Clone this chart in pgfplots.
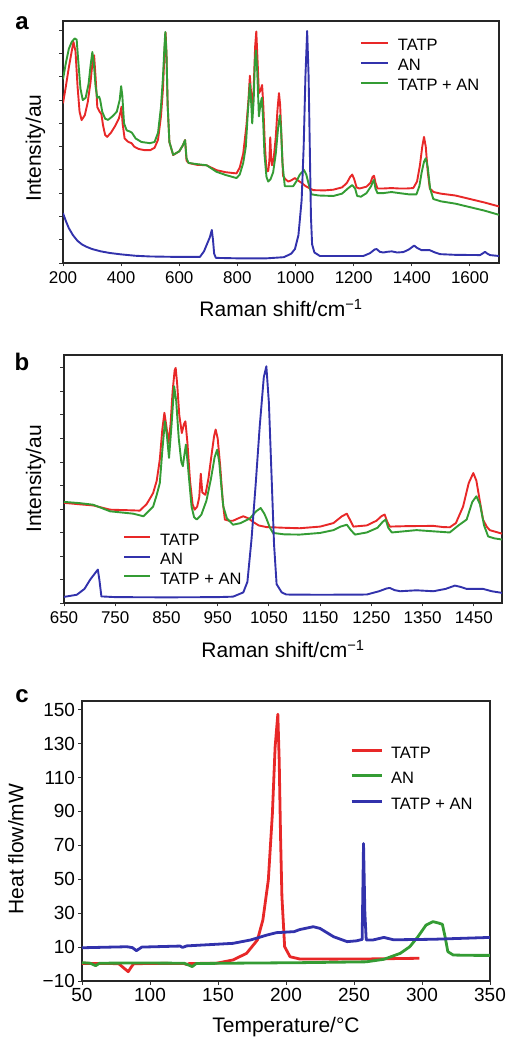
\documentclass[border=0pt]{standalone}
\usepackage{fontspec}
\setmainfont{Liberation Sans}
\usepackage{pgfplots}
\pgfplotsset{compat=1.18}
\definecolor{cred}{RGB}{232,40,40}
\definecolor{cblue}{RGB}{50,50,172}
\definecolor{cgreen}{RGB}{52,156,52}
\pgfplotsset{
  every axis/.append style={
    scale only axis, anchor=south west,
    axis line style={line width=1.6pt, black!85},
    tick style={line width=0.9pt, black!80},
    major tick length=3.5pt, tick align=outside,
    xtick pos=bottom, ytick pos=left,
    /pgf/number format/assume math mode=true,
    /pgf/number format/set thousands separator={},
    ticklabel style={font=\fontsize{17}{20}\selectfont},
    label style={font=\fontsize{21}{24}\selectfont},
    legend cell align=left,
    legend style={draw=none, fill=none, inner sep=0pt, outer sep=0pt, anchor=north west,
      font=\fontsize{16.5}{19}\selectfont, column sep=9pt,
      nodes={inner sep=0pt, text height=12pt, text depth=3.5pt}},
  },
  spec/.style={line width=1.9pt, line join=round},
}
\begin{document}
\begin{tikzpicture}
\useasboundingbox (0,0) rectangle (510pt,1039pt);
%% ---------------- panel a ----------------
\begin{axis}[at={(63pt,776pt)}, width=436pt, height=242pt,
  xmin=200, xmax=1700, ymin=0, ymax=10.4,
  xtick={200,400,...,1600}, ytick={0,1,...,10}, yticklabels={,,,,,,,,,,},
  xticklabel style={yshift=-2pt},
  xlabel={Raman shift/cm\textsuperscript{−1}},
  xlabel style={at={(axis description cs:0.5,0)}, anchor=base, yshift=-54pt},
  ylabel={Intensity/au},
  ylabel style={at={(axis description cs:-0.0505,0.475)}, anchor=base},
  legend style={at={(rel axis cs:0.681,0.9256)}, row sep=4.5pt},
  legend image code/.code={\draw[#1, line width=2pt] (0pt,0.36em) -- (27pt,0.36em);},
]
\addplot[spec, cred, forget plot] coordinates {
(200,6.86) (210,7.6) (220,8.4) (230,9.1) (236,9.5) (243,9.1) (250,7.6) (257,6.5) (264,6.14) (275,6.35) (285,6.9) (295,7.8) (302,8.7) (307,8.93) (312,8.0) (318,6.7) (326,6.5) (332,6.4) (338,5.9) (345,5.5) (352,5.42) (365,5.6) (380,5.9) (392,6.2) (398,6.5) (401,6.71) (405,6.0) (412,5.35) (425,5.2) (436,5.15) (445,5.0) (460,4.9) (480,4.85) (500,4.85) (515,4.95) (527,5.3) (537,6.3) (544,7.5) (549,9.0) (553,9.9) (556,9.0) (560,6.8) (566,5.2) (579,4.64) (600,4.8) (612,5.05) (620,5.28) (625,4.4) (632,4.3) (660,4.22) (694,4.2) (728,3.99) (760,3.9) (797,3.85) (808,4.1) (820,4.7) (831,5.9) (838,7.0) (843,8.05) (847,7.3) (851,6.6) (856,7.5) (861,9.3) (865,9.95) (869,8.8) (874,7.3) (879,7.4) (885,7.65) (889,6.8) (894,5.2) (900,3.95) (906,3.95) (910,4.4) (913,5.4) (916,4.6) (919,4.2) (925,4.5) (932,5.4) (938,6.6) (943,7.3) (947,6.8) (952,5.3) (957,3.75) (965,3.6) (975,3.5) (985,3.55) (998,3.65) (1008,3.55) (1020,3.45) (1035,3.3) (1050,3.2) (1061,3.13) (1100,3.12) (1130,3.15) (1160,3.25) (1176,3.43) (1188,3.7) (1195,3.8) (1202,3.6) (1210,3.25) (1220,3.2) (1244,3.28) (1258,3.45) (1265,3.7) (1270,3.75) (1275,3.45) (1282,3.2) (1300,3.2) (1330,3.22) (1359,3.2) (1380,3.2) (1405,3.22) (1418,3.5) (1428,4.2) (1436,5.0) (1442,5.42) (1448,5.0) (1455,3.9) (1462,3.2) (1475,3.05) (1500,2.98) (1550,2.9) (1600,2.75) (1650,2.6) (1700,2.43)};
\addplot[spec, cgreen, forget plot] coordinates {
(200,7.9) (210,8.6) (220,9.2) (230,9.5) (240,9.65) (247,9.6) (253,8.6) (260,7.5) (268,7.0) (278,7.1) (288,7.7) (295,8.5) (301,9.07) (306,8.6) (312,7.6) (318,7.1) (324,7.15) (328,7.0) (335,6.5) (345,6.2) (355,6.15) (370,6.3) (385,6.5) (395,7.0) (400,7.6) (404,7.2) (410,6.0) (419,5.7) (430,5.65) (437,5.6) (450,5.35) (470,5.2) (499,5.15) (515,5.2) (527,5.6) (537,6.7) (544,8.0) (549,9.3) (552,9.93) (556,9.0) (560,6.8) (566,5.2) (579,4.65) (600,4.8) (612,5.05) (620,5.28) (625,4.5) (632,4.3) (660,4.25) (694,4.2) (728,3.92) (760,3.78) (797,3.65) (808,3.8) (820,4.3) (829,5.0) (836,6.5) (843,7.7) (847,7.0) (851,6.0) (856,7.0) (860,8.6) (864,9.14) (868,8.3) (874,6.3) (879,6.8) (884,7.1) (888,6.3) (893,4.7) (900,3.7) (906,3.5) (914,3.6) (923,3.9) (932,4.7) (940,5.8) (946,6.35) (950,5.8) (955,4.3) (963,3.3) (975,3.3) (992,3.3) (1005,3.55) (1015,3.8) (1029,4.0) (1037,3.8) (1044,3.45) (1055,2.95) (1080,2.9) (1130,2.88) (1160,2.98) (1180,3.2) (1195,3.35) (1205,3.2) (1212,2.88) (1225,2.85) (1244,3.0) (1260,3.3) (1266,3.5) (1270,3.57) (1275,3.2) (1282,3.0) (1300,3.0) (1330,3.05) (1359,3.0) (1390,2.95) (1416,2.95) (1426,3.3) (1434,3.9) (1442,4.35) (1448,4.5) (1455,4.1) (1463,3.2) (1474,2.75) (1500,2.65) (1550,2.55) (1600,2.4) (1650,2.25) (1700,2.07)};
\addplot[spec, cblue, forget plot] coordinates {
(200,2.14) (210,1.8) (220,1.5) (234,1.2) (250,0.95) (265,0.8) (280,0.7) (300,0.6) (330,0.5) (361,0.43) (400,0.37) (450,0.31) (500,0.28) (600,0.26) (671,0.26) (685,0.5) (695,0.8) (705,1.1) (712,1.42) (716,1.0) (720,0.4) (726,0.22) (800,0.2) (900,0.2) (960,0.25) (985,0.4) (998,0.6) (1010,1.2) (1021,2.7) (1028,5.0) (1034,8.0) (1040,9.97) (1045,8.0) (1049,5.0) (1053,2.0) (1057,0.8) (1065,0.45) (1084,0.3) (1150,0.3) (1233,0.3) (1256,0.42) (1272,0.58) (1279,0.6) (1290,0.48) (1302,0.45) (1315,0.48) (1331,0.5) (1350,0.45) (1371,0.47) (1390,0.58) (1408,0.75) (1418,0.65) (1434,0.55) (1462,0.55) (1480,0.45) (1497,0.38) (1550,0.35) (1635,0.34) (1645,0.42) (1652,0.48) (1660,0.4) (1669,0.34) (1700,0.3)};
\addlegendimage{cred}\addlegendentry{TATP}
\addlegendimage{cblue}\addlegendentry{AN}
\addlegendimage{cgreen}\addlegendentry{TATP + AN}
\end{axis}
\node[font=\bfseries\fontsize{24}{24}\selectfont] at (22pt,1016pt) {a};
%% ---------------- panel b ----------------
\begin{axis}[at={(64pt,436pt)}, width=438pt, height=248pt,
  xmin=650, xmax=1505, ymin=0, ymax=10.55,
  xtick={650,750,...,1450}, ytick={0,1,...,10}, yticklabels={,,,,,,,,,,},
  xticklabel style={yshift=-2pt},
  xlabel={Raman shift/cm\textsuperscript{−1}},
  xlabel style={at={(axis description cs:0.5,0)}, anchor=base, yshift=-55pt},
  ylabel={Intensity/au},
  ylabel style={at={(axis description cs:-0.0525,0.5)}, anchor=base},
  legend style={at={(rel axis cs:0.1347,0.282)}, row sep=4pt},
  legend image code/.code={\draw[#1, line width=2pt] (0pt,0.36em) -- (26pt,0.36em);},
]
\addplot[spec, cred, forget plot] coordinates {
(650,4.26) (680,4.2) (707,4.15) (740,3.97) (770,3.95) (798,3.93) (811,4.2) (818,4.45) (824,4.68) (831,5.2) (837,6.1) (842,7.4) (846,8.09) (850,7.5) (854,6.81) (858,7.6) (862,9.0) (866,9.9) (868,10.0) (871,9.3) (875,8.0) (880,7.23) (884,7.6) (887,7.73) (891,6.8) (896,5.2) (901,4.2) (905,3.97) (910,4.1) (914,4.5) (917,5.5) (920,4.7) (926,4.6) (932,5.3) (938,6.3) (943,7.1) (946,7.38) (950,7.0) (955,5.8) (960,4.3) (964,3.55) (972,3.5) (980,3.5) (990,3.6) (1000,3.69) (1010,3.6) (1019,3.45) (1030,3.3) (1045,3.23) (1080,3.2) (1110,3.18) (1150,3.25) (1176,3.4) (1192,3.68) (1202,3.8) (1208,3.55) (1215,3.25) (1241,3.3) (1260,3.5) (1270,3.7) (1276,3.76) (1281,3.45) (1286,3.25) (1320,3.27) (1371,3.28) (1390,3.23) (1403,3.22) (1415,3.4) (1429,4.1) (1440,5.1) (1449,5.53) (1455,5.2) (1462,4.3) (1468,3.55) (1475,3.25) (1481,3.1) (1505,2.95)};
\addplot[spec, cgreen, forget plot] coordinates {
(650,4.3) (680,4.25) (707,4.18) (740,3.9) (785,3.8) (805,3.69) (815,3.9) (824,4.1) (831,4.6) (837,5.1) (842,6.5) (847,7.73) (851,7.1) (855,6.17) (860,7.6) (865,9.22) (869,8.6) (874,7.0) (879,6.0) (882,5.82) (885,6.3) (888,6.74) (892,5.8) (899,4.1) (904,3.65) (909,3.55) (918,3.75) (928,4.35) (937,5.3) (944,6.2) (949,6.52) (953,6.0) (957,5.0) (961,4.1) (968,3.6) (980,3.33) (995,3.4) (1013,3.6) (1025,3.9) (1034,4.04) (1041,3.8) (1045,3.6) (1052,3.2) (1058,2.98) (1080,2.92) (1110,2.91) (1150,2.98) (1176,3.1) (1190,3.25) (1202,3.33) (1210,3.1) (1218,2.91) (1241,3.0) (1262,3.2) (1272,3.45) (1278,3.55) (1283,3.2) (1290,3.0) (1338,3.1) (1370,3.05) (1403,3.0) (1420,3.3) (1436,3.55) (1447,4.3) (1455,4.54) (1462,4.2) (1470,3.3) (1478,2.83) (1490,2.75) (1505,2.7)};
\addplot[spec, cblue, forget plot] coordinates {
(650,0.26) (675,0.35) (690,0.6) (701,0.99) (710,1.25) (716,1.42) (719,1.0) (723,0.28) (750,0.25) (850,0.24) (950,0.25) (980,0.27) (1000,0.45) (1008,0.9) (1016,2.7) (1024,5.0) (1032,7.5) (1040,9.6) (1045,10.07) (1050,8.5) (1055,5.5) (1060,2.5) (1065,0.8) (1075,0.45) (1084,0.36) (1150,0.35) (1241,0.36) (1265,0.5) (1280,0.62) (1286,0.64) (1295,0.55) (1306,0.5) (1338,0.54) (1371,0.5) (1395,0.6) (1413,0.74) (1425,0.68) (1436,0.6) (1468,0.6) (1485,0.5) (1505,0.43)};
\addlegendimage{cred}\addlegendentry{TATP}
\addlegendimage{cblue}\addlegendentry{AN}
\addlegendimage{cgreen}\addlegendentry{TATP + AN}
\end{axis}
\node[font=\bfseries\fontsize{24}{24}\selectfont] at (22pt,677pt) {b};
%% ---------------- panel c ----------------
\begin{axis}[at={(82pt,58pt)}, width=408pt, height=280pt,
  xmin=50, xmax=350, ymin=-10, ymax=155.1,
  xtick={50,100,...,350}, ytick={-10,10,...,150},
  yticklabels={−10,10,30,50,70,90,110,130,150},
  ticklabel style={font=\fontsize{19}{22}\selectfont},
  xlabel={Temperature/°C},
  xlabel style={at={(axis description cs:0.5,0)}, anchor=base, yshift=-51pt},
  ylabel={Heat flow/mW},
  ylabel style={at={(axis description cs:-0.1434,0.471)}, anchor=base},
  legend style={at={(rel axis cs:0.657,0.839)}, row sep=10pt, column sep=8pt},
  legend image code/.code={\draw[#1, line width=3pt] (0pt,0.36em) -- (30pt,0.36em);},
]
\addplot[line width=2.8pt, line join=round, cred, forget plot] coordinates {
(50,0.4) (70,0.3) (77,0.2) (81,-2.5) (84,-4.5) (86,-2) (88,0.2) (110,0.4) (125,0.3) (127,-0.3) (129,0.3) (149,0.5) (161,2.4) (171,6.3) (179,14.2) (183,26) (187,49.5) (190,88.8) (192,128) (194,147.3) (195,120) (196,75) (197,39.7) (199,10.2) (203,4.3) (210,3.0) (235,2.9) (260,3.0) (298,3.4)};
\addplot[line width=2.8pt, line join=round, cgreen, forget plot] coordinates {
(50,0.8) (56,0.5) (60,-0.96) (63,0.5) (90,0.6) (125,0.5) (129,-0.8) (131,-1.5) (134,0.3) (160,0.5) (210,0.8) (259,1.3) (272,2.8) (284,6.3) (291,10.2) (297,16.1) (303,23) (308,25) (312,24.2) (315,23.4) (317,16) (319,7.3) (323,5.3) (340,5.1) (350,5.1)};
\addplot[line width=2.8pt, line join=round, cblue, forget plot] coordinates {
(50,9.6) (83,10.2) (87,9.7) (90,7.9) (94,10.0) (122,10.6) (124,9.8) (127,10.7) (161,12.2) (174,14.2) (186,17.1) (193,18.5) (206,19.1) (210,20.3) (220,22) (225,21) (235,16.1) (245,13.2) (252,13.7) (256,14.5) (257,71) (258,30) (259,14.2) (264,14.2) (272,15.7) (279,14.3) (308,14.6) (350,15.7)};
\addlegendimage{cred}\addlegendentry{TATP}
\addlegendimage{cgreen}\addlegendentry{AN}
\addlegendimage{cblue}\addlegendentry{TATP + AN}
\end{axis}
\node[font=\bfseries\fontsize{24}{24}\selectfont] at (22pt,343pt) {c};
\end{tikzpicture}
\end{document}
